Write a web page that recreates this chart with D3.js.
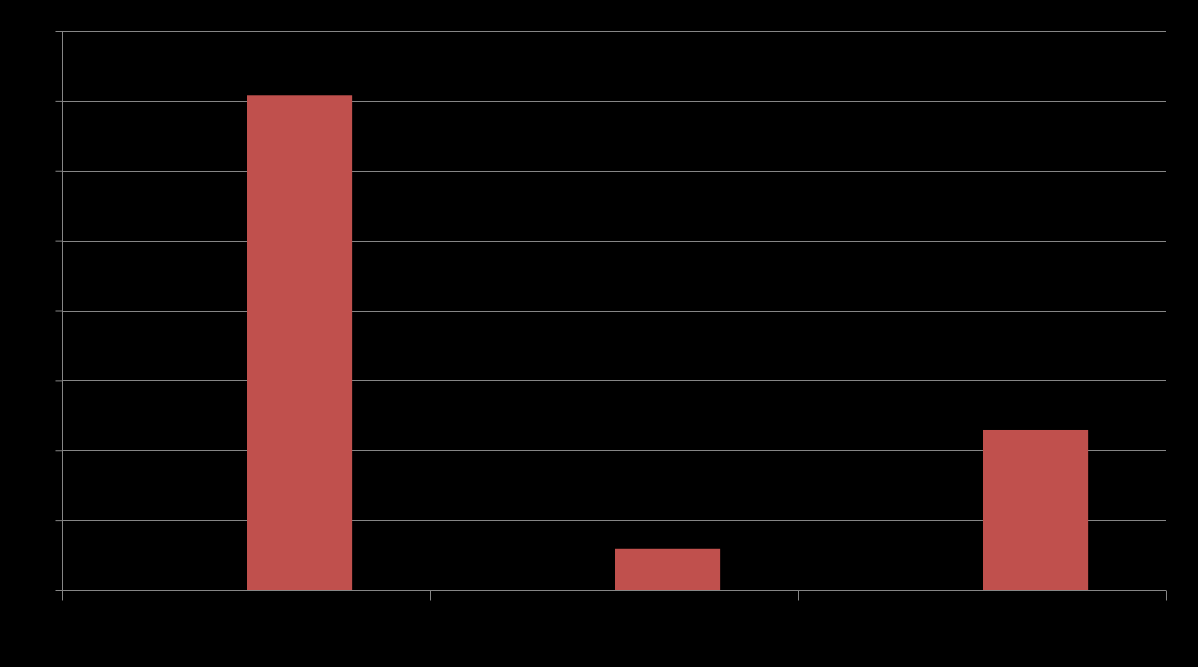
<!DOCTYPE html>
<html>
<head>
<meta charset="utf-8">
<script src="https://cdn.jsdelivr.net/npm/d3@7"></script>
<style>
  html, body { margin: 0; padding: 0; background: #000; }
  svg { display: block; }
</style>
</head>
<body>
<svg id="chart" width="1198" height="667"></svg>
<script>
// Data
const categories = ["Category 1", "Category 2", "Category 3"];
const seriesNames = ["Series 1", "Series 2"];
const series1Values = [0, 0, 0];
const series2Values = [7.08, 0.59, 2.29];
const yTicks = [0, 1, 2, 3, 4, 5, 6, 7, 8];

const W = 1198, H = 667;
const margin = { top: 31, right: 32, bottom: 77, left: 62 };
const innerW = W - margin.left - margin.right;
const innerH = H - margin.top - margin.bottom;

const svg = d3.select("#chart");
svg.append("rect").attr("width", W).attr("height", H).attr("fill", "#000");
const g = svg.append("g").attr("transform", `translate(${margin.left},${margin.top})`);

const x0 = d3.scaleBand().domain(categories).range([0, innerW]).paddingInner(0).paddingOuter(0);
const x1 = d3.scaleBand().domain(seriesNames).range([0, x0.bandwidth()]).paddingInner(0).paddingOuter(0.75);
const y = d3.scaleLinear().domain([0, 8]).range([innerH, 0]);

const gridColor = "#868686";

// Gridlines
g.append("g")
  .selectAll("line")
  .data(yTicks)
  .join("line")
  .attr("x1", 0).attr("x2", innerW)
  .attr("y1", d => Math.round(y(d)) + 0.5).attr("y2", d => Math.round(y(d)) + 0.5)
  .attr("stroke", gridColor).attr("stroke-width", 1);

// Y axis
const yAxis = g.append("g").attr("transform", "translate(0.5,0)")
  .call(d3.axisLeft(y).tickValues(yTicks).tickSize(7).tickFormat(() => ""));
yAxis.selectAll("line").attr("stroke", gridColor);
yAxis.select(".domain").attr("stroke", gridColor).attr("d", `M0,0V${innerH}`);

// Bars
const data = categories.map((c, i) => ({ cat: c, values: [
  { s: seriesNames[0], v: series1Values[i], color: "#4F81BD" },
  { s: seriesNames[1], v: series2Values[i], color: "#C0504D" }
]}));

g.append("g").selectAll("g")
  .data(data)
  .join("g")
  .attr("transform", d => `translate(${x0(d.cat)},0)`)
  .selectAll("rect")
  .data(d => d.values.filter(v => v.v > 0))
  .join("rect")
  .attr("x", d => x1(d.s) + 1)
  .attr("width", x1.bandwidth())
  .attr("y", d => y(d.v))
  .attr("height", d => innerH - y(d.v))
  .attr("fill", d => d.color);

// X axis
const xBoundaries = [0, 1, 2, 3].map(i => i * x0.step());
const xAxis = g.append("g").attr("transform", `translate(0,${innerH + 0.5})`);
xAxis.append("line").attr("x1", 0).attr("x2", innerW).attr("stroke", gridColor);
xAxis.selectAll("line.tick")
  .data(xBoundaries)
  .join("line")
  .attr("class", "tick")
  .attr("x1", d => Math.round(d) + 0.5).attr("x2", d => Math.round(d) + 0.5)
  .attr("y1", 0).attr("y2", 10)
  .attr("stroke", gridColor);
</script>
</body>
</html>
